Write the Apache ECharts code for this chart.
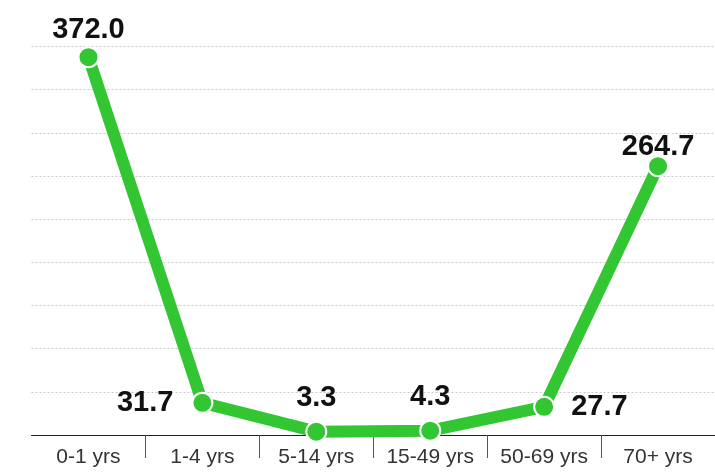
<!DOCTYPE html>
<html>
<head>
<meta charset="utf-8">
<script src="https://cdn.jsdelivr.net/npm/echarts@6/dist/echarts.min.js"></script>
<style>html,body{margin:0;padding:0;background:#fff}#c{width:715px;height:472px}</style>
</head>
<body>
<div id="c"></div>
<script>
var categories = ["0-1 yrs", "1-4 yrs", "5-14 yrs", "15-49 yrs", "50-69 yrs", "70+ yrs"];
var values = [372.0, 31.7, 3.3, 4.3, 27.7, 264.7];
var yMin = 0, yMax = 382.5, yInterval = 42.5;

var labelStyles = [
  {position: 'top', distance: 2},
  {position: 'left', distance: 18},
  {position: 'top', distance: 8},
  {position: 'top', distance: 8},
  {position: 'right', distance: 16},
  {position: 'top', distance: -6}
];

var chart = echarts.init(document.getElementById('c'));
chart.setOption({
  animation: false,
  backgroundColor: '#fff',
  grid: {left: 31.5, right: 0, top: 46.5, bottom: 37, containLabel: false},
  xAxis: {
    type: 'category',
    data: categories,
    boundaryGap: true,
    axisLine: {lineStyle: {color: '#222', width: 1}},
    axisTick: {show: true, length: 23, lineStyle: {color: '#555'},
      interval: function (i) { return i !== 0; }},
    axisLabel: {color: '#333', fontSize: 21, fontFamily: 'Liberation Sans, Arial, sans-serif', margin: 12, interval: 0}
  },
  yAxis: {
    type: 'value',
    min: yMin, max: yMax, interval: yInterval,
    axisLine: {show: false},
    axisTick: {show: false},
    axisLabel: {show: false},
    splitLine: {lineStyle: {color: '#c8c8c8', type: [2, 2], width: 1}}
  },
  series: [{
    type: 'line',
    data: values.map(function (v, i) {
      return {value: v, label: labelStyles[i]};
    }),
    lineStyle: {color: '#33c633', width: 12},
    itemStyle: {color: '#33c633', borderColor: '#fff', borderWidth: 2},
    symbol: 'circle',
    symbolSize: 20,
    showAllSymbol: true,
    label: {
      show: true,
      color: '#111',
      fontSize: 29,
      fontWeight: 'bold',
      fontFamily: 'Liberation Sans, Arial, sans-serif',
      formatter: function (p) { return p.value.toFixed(1); }
    }
  }]
});
</script>
</body>
</html>
